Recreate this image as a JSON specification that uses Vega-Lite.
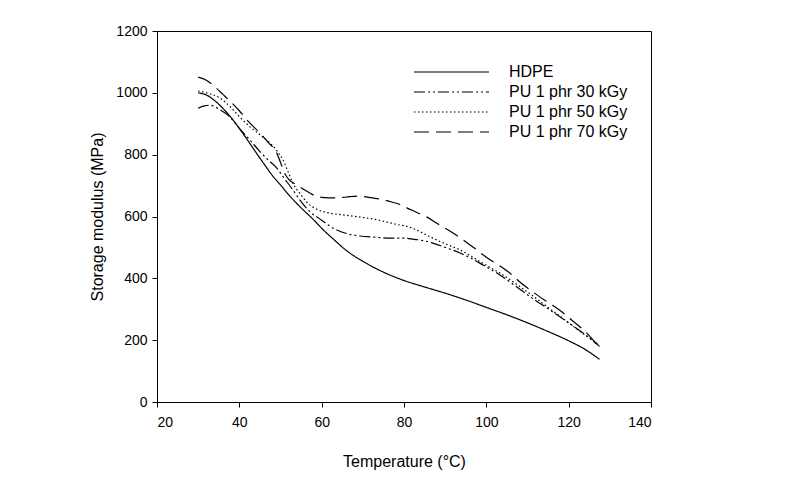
{
  "$schema": "https://vega.github.io/schema/vega-lite/v6.json",
  "width": 494,
  "height": 371,
  "autosize": {"type": "none"},
  "padding": {"left": 157, "top": 31, "right": 153, "bottom": 93},
  "background": "white",
  "config": {
    "font": "Liberation Sans",
    "view": {"stroke": "black", "strokeWidth": 1},
    "axis": {
      "grid": false,
      "domainColor": "black",
      "tickColor": "black",
      "tickSize": 5,
      "labelColor": "black",
      "labelFontSize": 14,
      "labelFont": "Liberation Sans",
      "titleFont": "Liberation Sans",
      "titleFontSize": 16,
      "titleFontWeight": "normal",
      "titleColor": "black"
    }
  },
  "data": {
    "values": [
      {"s": "HDPE", "t": 30, "e": 1000}, {"s": "HDPE", "t": 32, "e": 993}, {"s": "HDPE", "t": 34, "e": 975}, {"s": "HDPE", "t": 36, "e": 950},
      {"s": "HDPE", "t": 38, "e": 920}, {"s": "HDPE", "t": 40, "e": 885}, {"s": "HDPE", "t": 42, "e": 847}, {"s": "HDPE", "t": 44, "e": 808},
      {"s": "HDPE", "t": 46, "e": 770}, {"s": "HDPE", "t": 48, "e": 733}, {"s": "HDPE", "t": 50, "e": 702}, {"s": "HDPE", "t": 52, "e": 670},
      {"s": "HDPE", "t": 55, "e": 628}, {"s": "HDPE", "t": 58, "e": 590}, {"s": "HDPE", "t": 60, "e": 562}, {"s": "HDPE", "t": 63, "e": 525},
      {"s": "HDPE", "t": 66, "e": 490}, {"s": "HDPE", "t": 70, "e": 455}, {"s": "HDPE", "t": 75, "e": 420}, {"s": "HDPE", "t": 80, "e": 393},
      {"s": "HDPE", "t": 85, "e": 372}, {"s": "HDPE", "t": 90, "e": 352}, {"s": "HDPE", "t": 95, "e": 330}, {"s": "HDPE", "t": 100, "e": 306},
      {"s": "HDPE", "t": 105, "e": 282}, {"s": "HDPE", "t": 110, "e": 256}, {"s": "HDPE", "t": 115, "e": 228}, {"s": "HDPE", "t": 120, "e": 198},
      {"s": "HDPE", "t": 124, "e": 170}, {"s": "HDPE", "t": 127.5, "e": 138},

      {"s": "PU 1 phr 30 kGy", "t": 30, "e": 950}, {"s": "PU 1 phr 30 kGy", "t": 31.5, "e": 958}, {"s": "PU 1 phr 30 kGy", "t": 33, "e": 960},
      {"s": "PU 1 phr 30 kGy", "t": 35, "e": 948}, {"s": "PU 1 phr 30 kGy", "t": 37.7, "e": 922}, {"s": "PU 1 phr 30 kGy", "t": 40, "e": 885},
      {"s": "PU 1 phr 30 kGy", "t": 42.6, "e": 847}, {"s": "PU 1 phr 30 kGy", "t": 45, "e": 810}, {"s": "PU 1 phr 30 kGy", "t": 47, "e": 783},
      {"s": "PU 1 phr 30 kGy", "t": 49, "e": 758}, {"s": "PU 1 phr 30 kGy", "t": 51, "e": 722}, {"s": "PU 1 phr 30 kGy", "t": 53, "e": 686},
      {"s": "PU 1 phr 30 kGy", "t": 55, "e": 648}, {"s": "PU 1 phr 30 kGy", "t": 57.2, "e": 615}, {"s": "PU 1 phr 30 kGy", "t": 60, "e": 588},
      {"s": "PU 1 phr 30 kGy", "t": 62.7, "e": 563}, {"s": "PU 1 phr 30 kGy", "t": 66, "e": 545}, {"s": "PU 1 phr 30 kGy", "t": 69.3, "e": 537},
      {"s": "PU 1 phr 30 kGy", "t": 73, "e": 533}, {"s": "PU 1 phr 30 kGy", "t": 76.6, "e": 530}, {"s": "PU 1 phr 30 kGy", "t": 80, "e": 530},
      {"s": "PU 1 phr 30 kGy", "t": 82.2, "e": 527}, {"s": "PU 1 phr 30 kGy", "t": 85, "e": 521}, {"s": "PU 1 phr 30 kGy", "t": 87, "e": 514},
      {"s": "PU 1 phr 30 kGy", "t": 90, "e": 500}, {"s": "PU 1 phr 30 kGy", "t": 93.6, "e": 482}, {"s": "PU 1 phr 30 kGy", "t": 97, "e": 460},
      {"s": "PU 1 phr 30 kGy", "t": 99.2, "e": 443}, {"s": "PU 1 phr 30 kGy", "t": 103.3, "e": 411}, {"s": "PU 1 phr 30 kGy", "t": 107.4, "e": 372},
      {"s": "PU 1 phr 30 kGy", "t": 111, "e": 337}, {"s": "PU 1 phr 30 kGy", "t": 115.4, "e": 298}, {"s": "PU 1 phr 30 kGy", "t": 119, "e": 265},
      {"s": "PU 1 phr 30 kGy", "t": 123.5, "e": 223}, {"s": "PU 1 phr 30 kGy", "t": 127.5, "e": 180},

      {"s": "PU 1 phr 50 kGy", "t": 30, "e": 1006}, {"s": "PU 1 phr 50 kGy", "t": 32, "e": 1000}, {"s": "PU 1 phr 50 kGy", "t": 35.3, "e": 983},
      {"s": "PU 1 phr 50 kGy", "t": 38, "e": 952}, {"s": "PU 1 phr 50 kGy", "t": 40, "e": 923}, {"s": "PU 1 phr 50 kGy", "t": 42.6, "e": 890},
      {"s": "PU 1 phr 50 kGy", "t": 45, "e": 865}, {"s": "PU 1 phr 50 kGy", "t": 47.4, "e": 838}, {"s": "PU 1 phr 50 kGy", "t": 49, "e": 815},
      {"s": "PU 1 phr 50 kGy", "t": 50.6, "e": 783}, {"s": "PU 1 phr 50 kGy", "t": 52, "e": 740}, {"s": "PU 1 phr 50 kGy", "t": 53, "e": 708},
      {"s": "PU 1 phr 50 kGy", "t": 55, "e": 670}, {"s": "PU 1 phr 50 kGy", "t": 56.4, "e": 646}, {"s": "PU 1 phr 50 kGy", "t": 58.9, "e": 623},
      {"s": "PU 1 phr 50 kGy", "t": 62, "e": 611}, {"s": "PU 1 phr 50 kGy", "t": 66, "e": 604}, {"s": "PU 1 phr 50 kGy", "t": 69.3, "e": 598},
      {"s": "PU 1 phr 50 kGy", "t": 72, "e": 593}, {"s": "PU 1 phr 50 kGy", "t": 75.9, "e": 582}, {"s": "PU 1 phr 50 kGy", "t": 78, "e": 575},
      {"s": "PU 1 phr 50 kGy", "t": 81.5, "e": 565}, {"s": "PU 1 phr 50 kGy", "t": 84, "e": 550}, {"s": "PU 1 phr 50 kGy", "t": 87, "e": 530},
      {"s": "PU 1 phr 50 kGy", "t": 90, "e": 512}, {"s": "PU 1 phr 50 kGy", "t": 93.6, "e": 492}, {"s": "PU 1 phr 50 kGy", "t": 97, "e": 466},
      {"s": "PU 1 phr 50 kGy", "t": 100, "e": 442}, {"s": "PU 1 phr 50 kGy", "t": 103.3, "e": 417}, {"s": "PU 1 phr 50 kGy", "t": 107, "e": 384},
      {"s": "PU 1 phr 50 kGy", "t": 111, "e": 346}, {"s": "PU 1 phr 50 kGy", "t": 115, "e": 306}, {"s": "PU 1 phr 50 kGy", "t": 119, "e": 266},
      {"s": "PU 1 phr 50 kGy", "t": 123, "e": 226}, {"s": "PU 1 phr 50 kGy", "t": 127.5, "e": 184},

      {"s": "PU 1 phr 70 kGy", "t": 30, "e": 1051}, {"s": "PU 1 phr 70 kGy", "t": 32, "e": 1041}, {"s": "PU 1 phr 70 kGy", "t": 34, "e": 1020},
      {"s": "PU 1 phr 70 kGy", "t": 36, "e": 995}, {"s": "PU 1 phr 70 kGy", "t": 38, "e": 970}, {"s": "PU 1 phr 70 kGy", "t": 40, "e": 942},
      {"s": "PU 1 phr 70 kGy", "t": 42, "e": 910}, {"s": "PU 1 phr 70 kGy", "t": 45, "e": 870}, {"s": "PU 1 phr 70 kGy", "t": 47, "e": 840},
      {"s": "PU 1 phr 70 kGy", "t": 49.1, "e": 805}, {"s": "PU 1 phr 70 kGy", "t": 50, "e": 775}, {"s": "PU 1 phr 70 kGy", "t": 50.8, "e": 745},
      {"s": "PU 1 phr 70 kGy", "t": 52, "e": 720}, {"s": "PU 1 phr 70 kGy", "t": 54, "e": 702}, {"s": "PU 1 phr 70 kGy", "t": 56, "e": 685},
      {"s": "PU 1 phr 70 kGy", "t": 57.9, "e": 670}, {"s": "PU 1 phr 70 kGy", "t": 60, "e": 662}, {"s": "PU 1 phr 70 kGy", "t": 63.7, "e": 660},
      {"s": "PU 1 phr 70 kGy", "t": 66, "e": 663}, {"s": "PU 1 phr 70 kGy", "t": 68.6, "e": 666}, {"s": "PU 1 phr 70 kGy", "t": 72, "e": 661},
      {"s": "PU 1 phr 70 kGy", "t": 74.9, "e": 654}, {"s": "PU 1 phr 70 kGy", "t": 77, "e": 647}, {"s": "PU 1 phr 70 kGy", "t": 79, "e": 639},
      {"s": "PU 1 phr 70 kGy", "t": 80.7, "e": 628}, {"s": "PU 1 phr 70 kGy", "t": 83, "e": 614}, {"s": "PU 1 phr 70 kGy", "t": 85.6, "e": 598},
      {"s": "PU 1 phr 70 kGy", "t": 88, "e": 578}, {"s": "PU 1 phr 70 kGy", "t": 91.9, "e": 547}, {"s": "PU 1 phr 70 kGy", "t": 95, "e": 518},
      {"s": "PU 1 phr 70 kGy", "t": 97.7, "e": 492}, {"s": "PU 1 phr 70 kGy", "t": 100, "e": 468}, {"s": "PU 1 phr 70 kGy", "t": 103.3, "e": 440},
      {"s": "PU 1 phr 70 kGy", "t": 105.7, "e": 417}, {"s": "PU 1 phr 70 kGy", "t": 108, "e": 390}, {"s": "PU 1 phr 70 kGy", "t": 111.3, "e": 356},
      {"s": "PU 1 phr 70 kGy", "t": 115, "e": 322}, {"s": "PU 1 phr 70 kGy", "t": 117.9, "e": 296}, {"s": "PU 1 phr 70 kGy", "t": 121, "e": 262},
      {"s": "PU 1 phr 70 kGy", "t": 124.4, "e": 223}, {"s": "PU 1 phr 70 kGy", "t": 127.5, "e": 176}
    ]
  },
  "mark": {"type": "line", "color": "black", "strokeWidth": 1.2, "interpolate": "monotone"},
  "encoding": {
    "x": {
      "field": "t", "type": "quantitative",
      "scale": {"domain": [20, 140], "nice": false, "zero": false},
      "axis": {"values": [20, 40, 60, 80, 100, 120, 140], "format": "d", "title": "Temperature (°C)", "labelPadding": 8, "titlePadding": 24}
    },
    "y": {
      "field": "e", "type": "quantitative",
      "scale": {"domain": [0, 1200], "nice": false},
      "axis": {"values": [0, 200, 400, 600, 800, 1000, 1200], "format": "d", "title": "Storage modulus (MPa)", "labelPadding": 5, "titlePadding": 10}
    },
    "detail": {"field": "s"},
    "strokeDash": {
      "field": "s", "type": "nominal",
      "scale": {
        "domain": ["HDPE", "PU 1 phr 30 kGy", "PU 1 phr 50 kGy", "PU 1 phr 70 kGy"],
        "range": [[1, 0], [11, 3, 2, 3, 2, 3], [1.5, 2.5], [15, 7]]
      },
      "legend": {
        "title": null,
        "orient": "none",
        "legendX": 256,
        "legendY": 31,
        "padding": 0,
        "symbolType": "stroke",
        "symbolSize": 5625,
        "clipHeight": 20,
        "rowPadding": 0,
        "symbolStrokeColor": "black",
        "symbolStrokeWidth": 1.2,
        "labelOffset": 19,
        "labelFont": "Liberation Sans",
        "labelFontSize": 16,
        "labelColor": "black",
        "labelLimit": 300
      }
    }
  }
}
